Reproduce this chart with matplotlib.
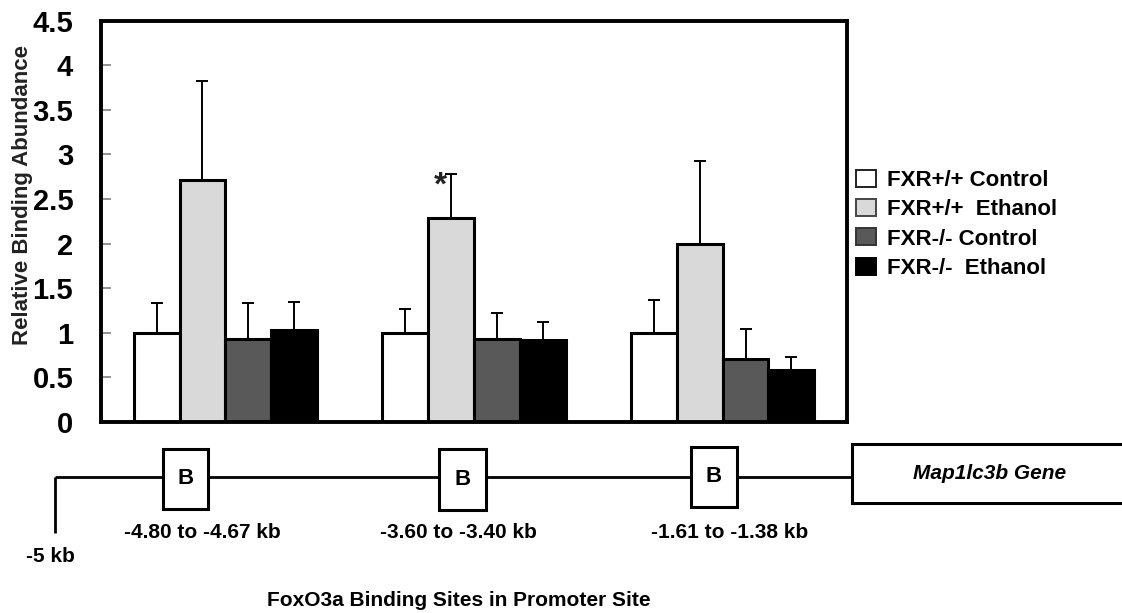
import matplotlib
matplotlib.use("Agg")
import matplotlib.pyplot as plt
import numpy as np
from matplotlib.patches import Patch, Rectangle

plt.rcParams['font.family'] = ['Liberation Sans', 'DejaVu Sans']

# ---- data -------------------------------------------------------------
sites = ["-4.80 to -4.67 kb", "-3.60 to -3.40 kb", "-1.61 to -1.38 kb"]
groups = ["FXR+/+ Control", "FXR+/+  Ethanol", "FXR-/- Control", "FXR-/-  Ethanol"]

wt_control = [1.00, 1.00, 1.00]
wt_ethanol = [2.71, 2.29, 2.00]
ko_control = [0.93, 0.93, 0.71]
ko_ethanol = [1.03, 0.92, 0.58]

wt_control_err = [0.33, 0.27, 0.37]
wt_ethanol_err = [1.11, 0.49, 0.93]
ko_control_err = [0.40, 0.29, 0.33]
ko_ethanol_err = [0.32, 0.20, 0.15]

yticks = [0, 0.5, 1, 1.5, 2, 2.5, 3, 3.5, 4, 4.5]
ytick_labels = ["0", "0.5", "1", "1.5", "2", "2.5", "3", "3.5", "4", "4.5"]

# (site index, group index) flagged as significant
significant = [(1, 1)]

colors = ["#ffffff", "#d9d9d9", "#595959", "#000000"]
legend_edges = ["#222222", "#444444", "#333333", "#000000"]

# ---- figure -----------------------------------------------------------
W, H = 1122, 613
fig = plt.figure(figsize=(W / 100, H / 100), dpi=100)
ax = fig.add_axes([101 / W, 1 - 422 / H, (847 - 101) / W, (422 - 20.6) / H])

values = [wt_control, wt_ethanol, ko_control, ko_ethanol]
errors = [wt_control_err, wt_ethanol_err, ko_control_err, ko_ethanol_err]
x = np.arange(len(sites))
width = 0.184
offsets = (np.arange(len(groups)) - 1.5) * width

for vals, errs, off, col in zip(values, errors, offsets, colors):
    ax.bar(x + off, vals, width, color=col, edgecolor="black",
           linewidth=2.2, zorder=2)
    ax.errorbar(x + off, vals, yerr=[np.zeros(len(errs)), errs], fmt="none",
                ecolor="black", elinewidth=1.4, capsize=4.5, capthick=1.4,
                zorder=3)

for si, gi in significant:
    top = values[gi][si] + errors[gi][si]
    ax.annotate("*", xy=(x[si] + offsets[gi], top), xytext=(-8, -9),
                textcoords="offset points", ha="center", va="center",
                fontsize=24, fontweight="bold", color="#222222")

ax.set_xlim(-0.5, 2.5)
ax.set_ylim(0, 4.5)
ax.set_xticks([])
ax.set_yticks(yticks)
ax.set_yticklabels(ytick_labels, fontsize=21, fontweight="bold")
ax.tick_params(axis="y", direction="in", length=7, width=1.3,
               color="#8a8a8a", pad=20)
for sp in ax.spines.values():
    sp.set_linewidth(2.8)
    sp.set_color("black")

ax.set_ylabel("Relative Binding Abundance", fontsize=16, fontweight="bold",
              color="#222222", va="center")
ax.yaxis.set_label_coords((23 - 101) / (847 - 101), (422 - 195) / (422 - 20.6))

handles = [Patch(facecolor=c, edgecolor=e, linewidth=1.4)
           for c, e in zip(colors, legend_edges)]
fig.legend(handles, groups, loc="upper left",
           bbox_to_anchor=(856 / W, 1 - 170 / H), frameon=False,
           prop={"size": 16, "weight": "bold"}, handlelength=0.9,
           handleheight=0.8, handletextpad=0.5, labelspacing=0.36,
           borderpad=0, borderaxespad=0)

# ---- promoter schematic ----------------------------------------------
dg = fig.add_axes([0, 0, 1, 1], facecolor="none")
dg.set_xlim(0, W)
dg.set_ylim(H, 0)
dg.axis("off")

line_kw = dict(color="black", linewidth=2.0, solid_capstyle="butt")
box_kw = dict(facecolor="white", edgecolor="black", linewidth=2.2)

boxes = [(163, 208, 449, 509), (439, 486, 449, 510), (691, 737, 447, 507)]
label_x = [202, 458, 730]
gene = (852, 1130, 444, 503)
y_line = 477

dg.plot([55, 55], [533, y_line], **line_kw)
xs = [55] + [v for b in boxes for v in (b[0], b[1])] + [gene[0]]
for a, b in zip(xs[0::2], xs[1::2]):
    dg.plot([a, b], [y_line, y_line], **line_kw)

for (x0, x1, y0, y1), site, lx in zip(boxes, sites, label_x):
    dg.add_patch(Rectangle((x0, y0), x1 - x0, y1 - y0, **box_kw))
    dg.text((x0 + x1) / 2, (y0 + y1) / 2, "B", ha="center", va="center",
            fontsize=16, fontweight="bold")
    dg.text(lx, 532, site, ha="center", va="center", fontsize=15,
            fontweight="bold")

gx0, gx1, gy0, gy1 = gene
dg.add_patch(Rectangle((gx0, gy0), gx1 - gx0, gy1 - gy0, **box_kw))
dg.text(990, (gy0 + gy1) / 2, "Map1lc3b Gene", ha="center", va="center",
        fontsize=15, fontweight="bold", style="italic")

dg.text(50, 557, "-5 kb", ha="center", va="center", fontsize=15,
        fontweight="bold")
dg.text(459, 600, "FoxO3a Binding Sites in Promoter Site", ha="center",
        va="center", fontsize=15, fontweight="bold")

fig.savefig("out.png", dpi=100)
